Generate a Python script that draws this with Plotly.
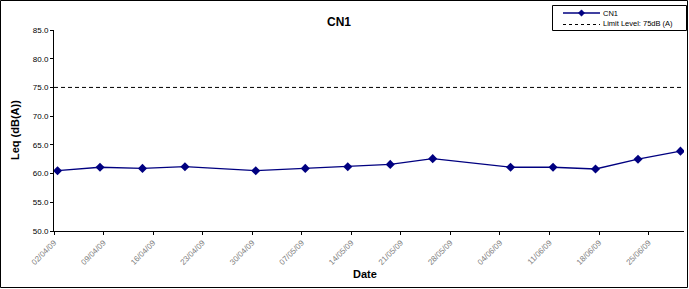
import pandas as pd
import plotly.graph_objects as go

dates = ["2009-04-02", "2009-04-08", "2009-04-14", "2009-04-20", "2009-04-30",
         "2009-05-07", "2009-05-13", "2009-05-19", "2009-05-25", "2009-06-05",
         "2009-06-11", "2009-06-17", "2009-06-23", "2009-06-29"]
leq = [60.5, 61.1, 60.9, 61.2, 60.5, 60.9, 61.2, 61.6, 62.6, 61.1, 61.1, 60.8, 62.5, 63.9]
limit_level = 75
tick_dates = ["2009-04-02", "2009-04-09", "2009-04-16", "2009-04-23", "2009-04-30",
              "2009-05-07", "2009-05-14", "2009-05-21", "2009-05-28", "2009-06-04",
              "2009-06-11", "2009-06-18", "2009-06-25"]
x_range = ["2009-04-02", "2009-06-30"]
y_ticks = [50, 55, 60, 65, 70, 75, 80, 85]
series_names = ["CN1", "Limit Level: 75dB (A)"]

x_pts = pd.to_datetime(dates) + pd.Timedelta(hours=12)
tick_dt = pd.to_datetime(tick_dates)
tick_text = [d.strftime("%d/%m/%y") for d in tick_dt]

W, H = 689, 289
ml, mr, mt, mb = 54, 5, 30, 58
pw, ph = W - ml - mr, H - mt - mb
NAVY = "#000080"

def px(x):
    return (x - ml) / pw

def py(y):
    return 1 - (y - mt) / ph

fig = go.Figure()
fig.add_trace(go.Scatter(
    x=x_pts, y=leq, mode="lines+markers", name=series_names[0],
    line=dict(color=NAVY, width=1.3),
    marker=dict(symbol="diamond", size=7, color=NAVY),
))
fig.add_trace(go.Scatter(
    x=pd.to_datetime(x_range), y=[limit_level, limit_level], mode="lines",
    name=series_names[1],
    line=dict(color="black", width=1, dash="4px,3px"),
))

# custom compact legend (Excel-like box)
lx0, lx1, ly0, ly1 = 552, 686, 5, 30
row_y = [13, 24]
sx0, sx1 = 563, 600
shapes = [
    dict(type="rect", xref="paper", yref="paper",
         x0=px(0.5), x1=px(687.5), y0=py(0.5), y1=py(287.5),
         line=dict(color="black", width=1), fillcolor="rgba(0,0,0,0)", layer="above"),
    dict(type="rect", xref="paper", yref="paper",
         x0=px(lx0 + 0.5), x1=px(lx1 + 0.5), y0=py(ly0 + 0.5), y1=py(ly1 + 0.5),
         line=dict(color="black", width=1), fillcolor="white", layer="above"),
    dict(type="line", xref="paper", yref="paper",
         x0=px(sx0), x1=px(sx1), y0=py(row_y[0]), y1=py(row_y[0]),
         line=dict(color=NAVY, width=1.3), layer="above"),
    dict(type="line", xref="paper", yref="paper",
         x0=px(sx0), x1=px(sx1), y0=py(row_y[1] + 0.5), y1=py(row_y[1] + 0.5),
         line=dict(color="black", width=1, dash="3px,3px"), layer="above"),
]
cx, cy, r = (sx0 + sx1) / 2, row_y[0], 3.2
diamond = "M {} {} L {} {} L {} {} L {} {} Z".format(
    px(cx), py(cy - r), px(cx + r), py(cy), px(cx), py(cy + r), px(cx - r), py(cy))
shapes.append(dict(type="path", xref="paper", yref="paper", path=diamond,
                   fillcolor=NAVY, line=dict(color=NAVY, width=0.5), layer="above"))

annotations = [
    dict(text="<b>CN1</b>", x=px(339), y=py(22), xref="paper", yref="paper",
         showarrow=False, font=dict(size=12), xanchor="center", yanchor="middle"),
    dict(text="<b>Date</b>", x=px(365), y=py(274), xref="paper", yref="paper",
         showarrow=False, font=dict(size=11), xanchor="center", yanchor="middle"),
    dict(text="<b>Leq (dB(A))</b>", x=px(15), y=py(130), xref="paper", yref="paper",
         showarrow=False, font=dict(size=11), textangle=-90,
         xanchor="center", yanchor="middle"),
]
for name, ry in zip(series_names, row_y):
    annotations.append(dict(text=name, x=px(601), y=py(ry), xref="paper", yref="paper",
                            showarrow=False, font=dict(size=7.5), xanchor="left",
                            yanchor="middle"))

fig.update_layout(
    width=W, height=H,
    margin=dict(l=ml, r=mr, t=mt, b=mb),
    paper_bgcolor="white", plot_bgcolor="white",
    font=dict(family="Liberation Sans, Arial, sans-serif", color="black"),
    showlegend=False,
    annotations=annotations,
    shapes=shapes,
)
fig.update_xaxes(
    type="date", range=pd.to_datetime(x_range),
    tickvals=tick_dt, ticktext=tick_text, tickangle=-45,
    tickfont=dict(size=8, color="#808080"),
    showgrid=False, zeroline=False, showline=True, linecolor="black", linewidth=1,
    ticks="outside", ticklen=3, tickcolor="black",
)
fig.update_yaxes(
    range=[50, 85], tickvals=y_ticks, ticktext=[f"{v:.1f}" for v in y_ticks],
    tickfont=dict(size=8), showgrid=False, zeroline=False,
    showline=True, linecolor="black", linewidth=1,
    ticks="outside", ticklen=3, tickcolor="black",
)

fig.write_html("out.html")
